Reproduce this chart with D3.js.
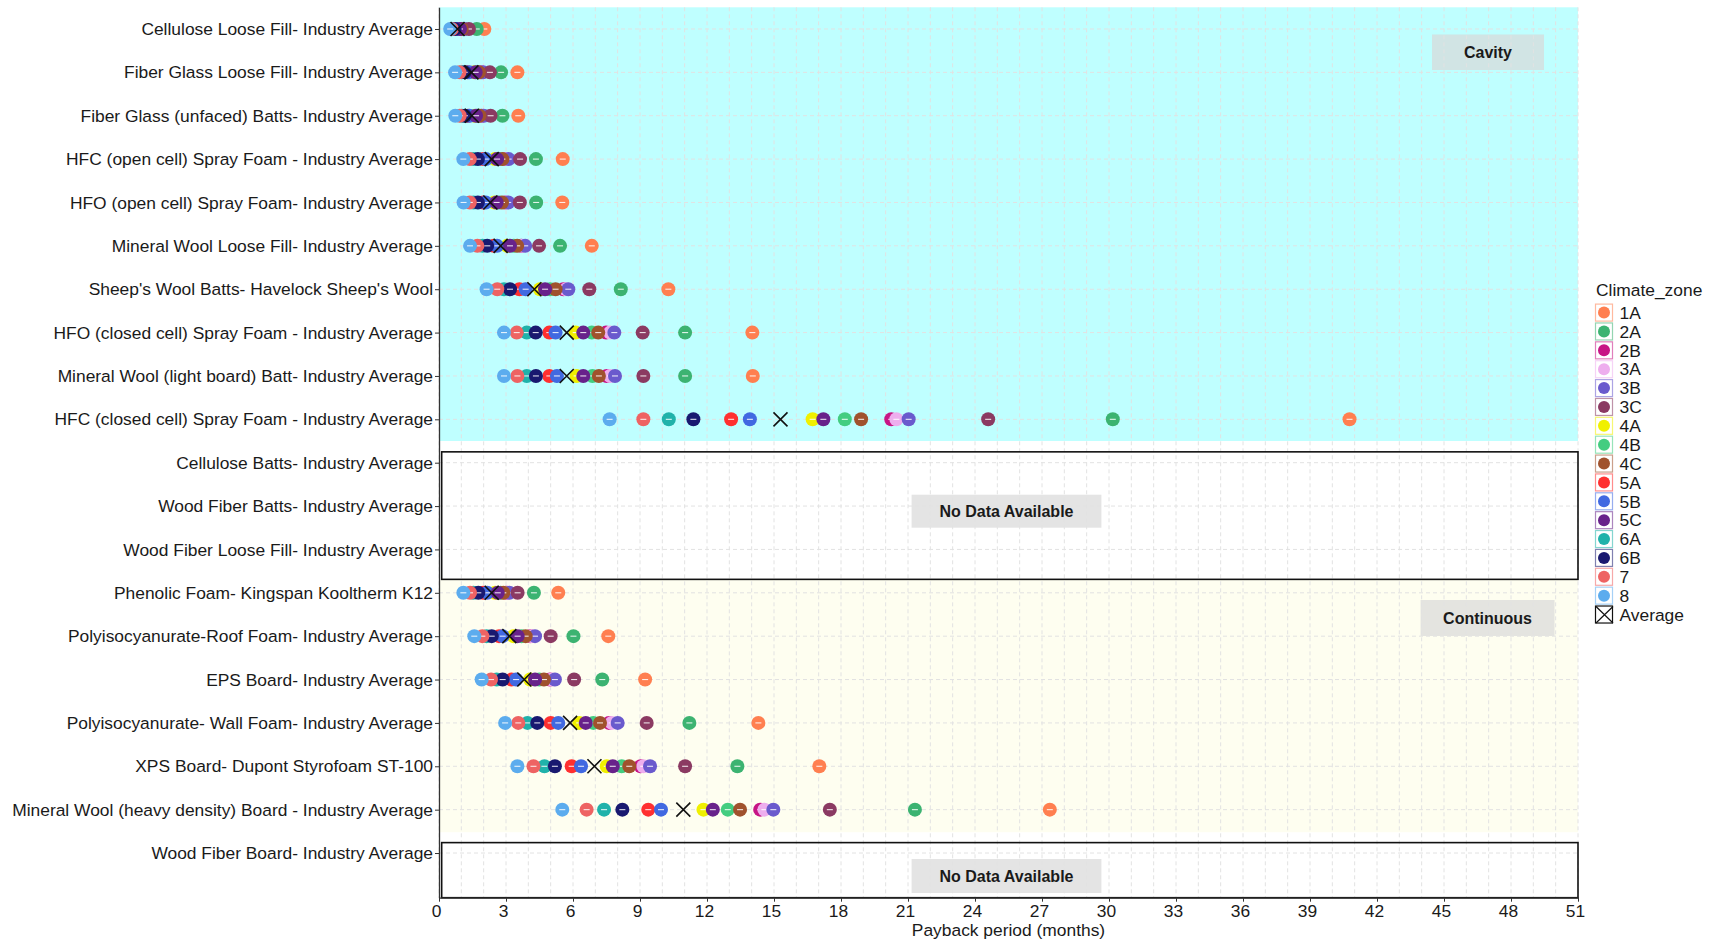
<!DOCTYPE html>
<html>
<head>
<meta charset="utf-8">
<script src="https://cdn.jsdelivr.net/npm/d3@7"></script>
<style>
  body { margin: 0; background: #fff; }
  svg text { font-family: "Liberation Sans", Arial, sans-serif; }
</style>
</head>
<body>
<svg id="chart" width="1720" height="941"></svg>
<script>

const materials = [
  "Cellulose Loose Fill- Industry Average",
  "Fiber Glass Loose Fill- Industry Average",
  "Fiber Glass (unfaced) Batts- Industry Average",
  "HFC (open cell) Spray Foam - Industry Average",
  "HFO (open cell) Spray Foam- Industry Average",
  "Mineral Wool Loose Fill- Industry Average",
  "Sheep's Wool Batts- Havelock Sheep's Wool",
  "HFO (closed cell) Spray Foam - Industry Average",
  "Mineral Wool (light board) Batt-  Industry Average",
  "HFC (closed cell) Spray Foam - Industry Average",
  "Cellulose Batts- Industry Average",
  "Wood Fiber Batts- Industry Average",
  "Wood Fiber Loose Fill- Industry Average",
  "Phenolic Foam- Kingspan Kooltherm K12",
  "Polyisocyanurate-Roof Foam- Industry Average",
  "EPS Board- Industry Average",
  "Polyisocyanurate- Wall Foam- Industry Average",
  "XPS Board- Dupont Styrofoam ST-100",
  "Mineral Wool (heavy density) Board - Industry Average",
  "Wood Fiber Board-  Industry Average"
];

const zones = ["1A","2A","2B","3A","3B","3C","4A","4B","4C","5A","5B","5C","6A","6B","7","8"];
const zoneColors = ["#FF7F50","#3CB371","#C71585","#EEAEEE","#6A5ACD","#8B3A62","#F0F000","#43CD80",
                    "#A0522D","#FF3030","#4169E1","#68228B","#20B2AA","#191970","#EE6363","#5CACEE"];

// payback (months) per material, values in zone order; null = no data
const payback = [
  [2.03,1.69,1.07,1.09,1.13,1.34,0.90,0.98,1.02,0.76,0.80,0.94,0.64,0.70,0.58,0.50],
  [3.51,2.78,1.88,1.91,1.97,2.28,1.58,1.72,1.79,1.28,1.35,1.64,1.02,1.15,0.92,0.72],
  [3.55,2.84,1.90,1.93,2.00,2.31,1.60,1.74,1.81,1.30,1.37,1.66,1.03,1.16,0.93,0.73],
  [5.54,4.34,2.98,3.03,3.12,3.63,2.50,2.72,2.84,1.98,2.10,2.60,1.55,1.74,1.38,1.09],
  [5.52,4.35,2.96,3.01,3.10,3.62,2.48,2.70,2.82,1.97,2.09,2.58,1.55,1.74,1.38,1.10],
  [6.84,5.42,3.68,3.75,3.86,4.48,3.05,3.35,3.50,2.45,2.60,3.18,1.95,2.16,1.72,1.39],
  [10.27,8.14,5.57,5.69,5.79,6.73,4.52,4.97,5.22,3.60,3.88,4.75,2.91,3.18,2.61,2.13],
  [14.03,11.02,7.48,7.66,7.85,9.12,6.12,6.84,7.13,4.94,5.22,6.46,3.93,4.33,3.48,2.91],
  [14.05,11.02,7.51,7.66,7.88,9.15,6.16,6.87,7.16,4.94,5.28,6.46,3.93,4.34,3.51,2.91],
  [40.77,30.17,20.25,20.48,21.03,24.59,16.73,18.17,18.90,13.08,13.92,17.21,10.29,11.39,9.15,7.64],
  null,
  null,
  null,
  [5.34,4.25,3.00,3.08,3.15,3.52,2.51,2.76,2.88,1.98,2.16,2.63,1.54,1.76,1.39,1.09],
  [7.58,6.02,4.08,4.15,4.30,5.00,3.33,3.70,3.88,2.69,2.85,3.52,2.13,2.36,1.94,1.58],
  [9.23,7.31,4.97,5.05,5.19,6.05,4.08,4.49,4.70,3.25,3.45,4.30,2.58,2.85,2.33,1.91],
  [14.30,11.21,7.61,7.73,8.00,9.30,6.28,6.91,7.21,5.00,5.34,6.57,3.96,4.40,3.55,2.96],
  [17.03,13.36,9.03,9.15,9.45,11.02,7.51,8.18,8.52,5.94,6.36,7.78,4.72,5.19,4.23,3.51],
  [27.35,21.31,14.38,14.57,14.97,17.50,11.84,12.93,13.48,9.37,9.94,12.26,7.39,8.21,6.61,5.52],
  null
];

const averages = [0.83,1.45,1.47,2.36,2.30,2.76,4.27,5.72,5.72,15.29,null,null,null,
                  2.36,3.15,3.82,5.87,6.96,10.94,null];

const xTicks = d3.range(0, 52, 3);

const svg = d3.select("#chart");

const x = d3.scaleLinear().domain([0, 51]).range([439, 1578]);
const y = d3.scaleLinear().domain([0.5, 21.03]).range([7.3, 897.7]);

// background groups
svg.append("rect")
  .attr("x", x(0)).attr("width", x(51) - x(0))
  .attr("y", y(0.5)).attr("height", y(10.5) - y(0.5))
  .attr("fill", "#BFFFFF");
svg.append("rect")
  .attr("x", x(0)).attr("width", x(51) - x(0))
  .attr("y", y(13.69)).attr("height", y(19.52) - y(13.69))
  .attr("fill", "#FEFEF0");

// label boxes
const boxes = [
  {t: "Cavity", x0: 1432, x1: 1544, y0: 34.5, y1: 70},
  {t: "Continuous", x0: 1420.6, x1: 1554.5, y0: 600, y1: 636},
  {t: "No Data Available", x0: 911.6, x1: 1101.4, y0: 494.7, y1: 527.7},
  {t: "No Data Available", x0: 911.6, x1: 1101.4, y0: 859, y1: 893}
];
svg.selectAll(".lbox").data(boxes).enter().append("rect")
  .attr("class", "lbox")
  .attr("x", d => d.x0).attr("y", d => d.y0)
  .attr("width", d => d.x1 - d.x0).attr("height", d => d.y1 - d.y0)
  .attr("fill", "#D9D9D9").attr("fill-opacity", 0.7);

// grid
const grid = svg.append("g");
grid.selectAll(".vg").data(d3.range(0, 52)).enter().append("line")
  .attr("x1", d => x(d)).attr("x2", d => x(d))
  .attr("y1", y(0.5)).attr("y2", y(21.03))
  .attr("stroke", "#e2e2e2").attr("stroke-width", 1).attr("stroke-dasharray", "4,3");
grid.selectAll(".hg").data(d3.range(1, 21)).enter().append("line")
  .attr("x1", x(0)).attr("x2", x(51))
  .attr("y1", d => y(d)).attr("y2", d => y(d))
  .attr("stroke", "#e2e2e2").attr("stroke-width", 1).attr("stroke-dasharray", "4,3");

// no data frames
[[10.75, 13.69], [19.76, 21.03]].forEach(r => {
  svg.append("rect")
    .attr("x", x(0.12)).attr("width", x(51) - x(0.12))
    .attr("y", y(r[0])).attr("height", y(r[1]) - y(r[0]))
    .attr("fill", "none").attr("stroke", "#111").attr("stroke-width", 1.6);
});

svg.selectAll(".ltext").data(boxes).enter().append("text")
  .attr("x", d => (d.x0 + d.x1) / 2).attr("y", d => (d.y0 + d.y1) / 2)
  .attr("dy", "0.36em").attr("text-anchor", "middle")
  .attr("font-size", "16px").attr("font-weight", "bold").attr("fill", "#1a1a1a")
  .text(d => d.t);

// points
const pts = [];
payback.forEach((row, i) => {
  if (!row) return;
  row.forEach((v, j) => pts.push({row: i + 1, zone: j, v: v}));
});

const pg = svg.append("g");
const dots = pg.selectAll(".pt").data(pts).enter().append("g")
  .attr("transform", d => `translate(${x(d.v)},${y(d.row)})`);
dots.append("circle").attr("r", 7).attr("fill", d => zoneColors[d.zone]);
dots.append("line").attr("x1", -3).attr("x2", 3)
  .attr("stroke", "#fff").attr("stroke-width", 1.1).attr("stroke-opacity", 0.85);

const avgPts = averages.map((v, i) => ({row: i + 1, v: v})).filter(d => d.v != null);
pg.selectAll(".avg").data(avgPts).enter().append("path")
  .attr("transform", d => `translate(${x(d.v)},${y(d.row)})`)
  .attr("d", "M-7,-7L7,7M-7,7L7,-7")
  .attr("stroke", "#111").attr("stroke-width", 1.6).attr("fill", "none");

// axes
const yAxis = svg.append("g").attr("transform", `translate(${x(0)},0)`)
  .call(d3.axisLeft(y).tickValues(d3.range(1, 21)).tickFormat(d => materials[d - 1]).tickSize(4).tickSizeOuter(0));
const xAxis = svg.append("g").attr("transform", `translate(0,${y(21.03)})`)
  .call(d3.axisBottom(x).tickValues(xTicks).tickSize(4).tickSizeOuter(0));

[yAxis, xAxis].forEach(a => {
  a.select(".domain").attr("stroke", "#333").attr("stroke-width", 1.3);
  a.selectAll(".tick line").attr("stroke", "#333");
  a.selectAll(".tick text").attr("fill", "#1a1a1a").attr("font-size", "17.4px")
    .attr("font-family", "'Liberation Sans', Arial, sans-serif");
});
yAxis.selectAll(".tick text").attr("x", -6);
xAxis.selectAll(".tick text").attr("y", 7).attr("x", -3);

svg.append("text")
  .attr("x", (x(0) + x(51)) / 2).attr("y", 930).attr("dy", "0.36em")
  .attr("text-anchor", "middle").attr("font-size", "17.4px").attr("fill", "#1a1a1a")
  .text("Payback period (months)");

// legend
const lg = svg.append("g").attr("transform", "translate(1595,0)");
lg.append("text").attr("x", 1).attr("y", 289.5).attr("dy", "0.36em")
  .attr("font-size", "17.4px").attr("fill", "#1a1a1a").text("Climate_zone");

const keyY = i => 312.6 + i * 18.87;
const keys = lg.selectAll(".key").data(zones).enter().append("g")
  .attr("transform", (d, i) => `translate(0,${keyY(i)})`);
keys.append("rect").attr("x", 0.5).attr("y", -8.5).attr("width", 17).attr("height", 17)
  .attr("fill", "#fff").attr("stroke", (d, i) => zoneColors[i]).attr("stroke-opacity", 0.55)
  .attr("stroke-width", 1.2);
keys.append("circle").attr("cx", 9).attr("cy", 0).attr("r", 6)
  .attr("fill", (d, i) => zoneColors[i]);
keys.append("text").attr("x", 24.5).attr("dy", "0.36em")
  .attr("font-size", "17.4px").attr("fill", "#1a1a1a").text(d => d);

const ak = lg.append("g").attr("transform", `translate(0,${keyY(16)})`);
ak.append("rect").attr("x", 0.5).attr("y", -8.5).attr("width", 17).attr("height", 17)
  .attr("fill", "#fff").attr("stroke", "#111").attr("stroke-width", 1.2);
ak.append("path").attr("d", "M1,-8L18,8.5M1,8.5L18,-8")
  .attr("stroke", "#111").attr("stroke-width", 1.2);
ak.append("text").attr("x", 24.5).attr("dy", "0.36em")
  .attr("font-size", "17.4px").attr("fill", "#1a1a1a").text("Average");

</script>
</body>
</html>
